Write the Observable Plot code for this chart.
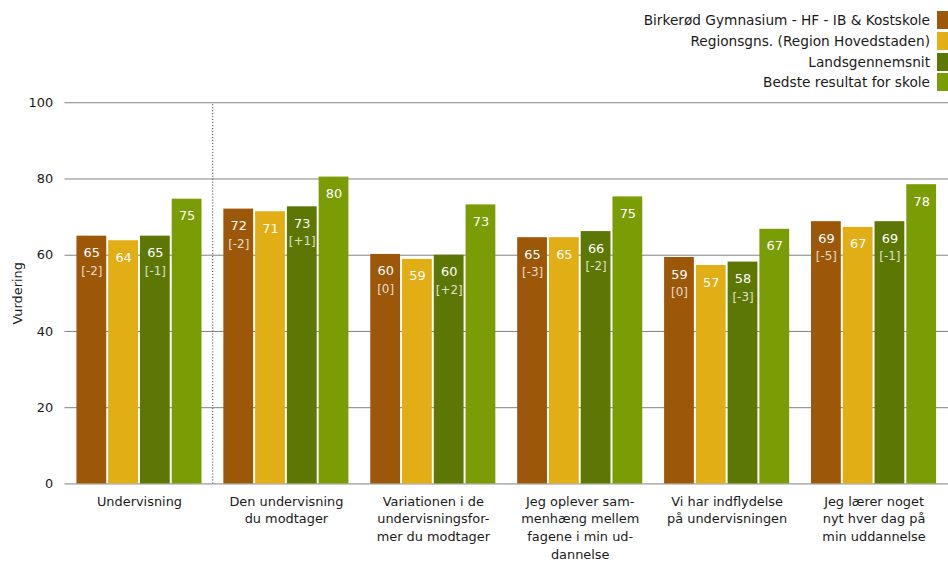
<!DOCTYPE html>
<html>
<head>
<meta charset="utf-8">
<script src="https://cdn.jsdelivr.net/npm/d3@7"></script>
<script src="https://cdn.jsdelivr.net/npm/@observablehq/plot@0.6"></script>
<style>
  html, body { margin: 0; padding: 0; background: #fff; overflow: hidden; }
  #wrap { position: relative; width: 948px; height: 567px; overflow: hidden; font-family: "DejaVu Sans", sans-serif; }
  #legend { position: absolute; top: 10px; right: 0; }
  .row { display: flex; justify-content: flex-end; align-items: center; height: 20.7px; }
  .row span { font-size: 13.7px; color: #1a1a1a; margin-right: 7px; white-space: nowrap; }
  .row i { display: inline-block; width: 11px; height: 18px; }
</style>
</head>
<body>
<div id="wrap"><div id="legend"></div></div>
<script>
const categories = [
  "Undervisning",
  "Den undervisning\ndu modtager",
  "Variationen i de\nundervisningsfor-\nmer du modtager",
  "Jeg oplever sam-\nmenhæng mellem\nfagene i min ud-\ndannelse",
  "Vi har indflydelse\npå undervisningen",
  "Jeg lærer noget\nnyt hver dag på\nmin uddannelse"
];
const series = [
  "Birkerød Gymnasium - HF - IB & Kostskole",
  "Regionsgns. (Region Hovedstaden)",
  "Landsgennemsnit",
  "Bedste resultat for skole"
];
const colors = ["#9C5808", "#E1AE16", "#5D7705", "#7A9C05"];
// bar heights per category, in series order
const values = [
  [65.0, 63.8, 65.0, 74.7],
  [72.1, 71.4, 72.7, 80.5],
  [60.2, 58.9, 60.0, 73.2],
  [64.6, 64.6, 66.2, 75.3],
  [59.4, 57.3, 58.2, 66.8],
  [68.8, 67.3, 68.8, 78.5]
];
const valueLabels = [
  ["65", "64", "65", "75"],
  ["72", "71", "73", "80"],
  ["60", "59", "60", "73"],
  ["65", "65", "66", "75"],
  ["59", "57", "58", "67"],
  ["69", "67", "69", "78"]
];
const changeLabels = [
  ["[-2]", "", "[-1]", ""],
  ["[-2]", "", "[+1]", ""],
  ["[0]", "", "[+2]", ""],
  ["[-3]", "", "[-2]", ""],
  ["[0]", "", "[-3]", ""],
  ["[-5]", "", "[-1]", ""]
];
const yTicks = [0, 20, 40, 60, 80, 100];
const separatorBefore = [categories[1]];

const data = [];
categories.forEach((c, i) => series.forEach((s, j) => data.push({
  cat: c, series: s, value: values[i][j], label: valueLabels[i][j], change: changeLabels[i][j]
})));

const legend = document.getElementById("legend");
series.forEach((s, j) => {
  const row = document.createElement("div");
  row.className = "row";
  row.innerHTML = `<span></span><i style="background:${colors[j]}"></i>`;
  row.querySelector("span").textContent = s;
  legend.appendChild(row);
});

// layout of the grouped bars inside each category band
const W = 955, ML = 65, MR = 0, PIN = 0.151, POUT = 0.074;
const step = (W - ML - MR) / (categories.length - PIN + 2 * POUT);
const bw = step * (1 - PIN);
const sub = d3.scaleBand(series, [-bw / 2, bw / 2]).paddingInner(0.0625);

const seriesMarks = series.flatMap(s => {
  const rows = data.filter(d => d.series === s);
  const left = sub(s) + bw / 2;
  const right = bw / 2 - (sub(s) + sub.bandwidth());
  const dx = sub(s) + sub.bandwidth() / 2;
  return [
    Plot.barY(rows, { x: "cat", y: "value", fill: "series", insetLeft: left, insetRight: right }),
    Plot.text(rows, { x: "cat", y: "value", text: "label", dx, dy: 17, fill: "white", fontSize: 13 }),
    Plot.text(rows, { x: "cat", y: "value", text: "change", dx, dy: 35, fill: "white", fillOpacity: 0.8, fontSize: 12 })
  ];
});

const chart = Plot.plot({
  width: W,
  height: 567,
  marginTop: 103,
  marginBottom: 80,
  marginLeft: ML,
  marginRight: MR,
  style: { fontFamily: "DejaVu Sans, sans-serif", fontSize: "13px", color: "#1a1a1a", background: "transparent" },
  x: { domain: categories, paddingInner: PIN, paddingOuter: POUT, axis: null },
  y: { domain: [0, 100], axis: null },
  color: { domain: series, range: colors },
  marks: [
    Plot.ruleY(yTicks, { stroke: "#808080", strokeWidth: 1 }),
    Plot.ruleX(separatorBefore, { x: d => d, dx: -step / 2, y1: 0, y2: 100, stroke: "#333", strokeDasharray: "1,2" }),
    ...seriesMarks,
    Plot.axisY({ ticks: yTicks, tickSize: 0, tickPadding: 12, label: "Vurdering", labelAnchor: "center", labelOffset: 53, labelArrow: "none", fontSize: 13 }),
    Plot.axisX({ tickSize: 0, tickPadding: 9, lineHeight: 1.38, label: null, fontSize: 13 })
  ]
});
document.getElementById("wrap").insertBefore(chart, legend);
</script>
</body>
</html>
